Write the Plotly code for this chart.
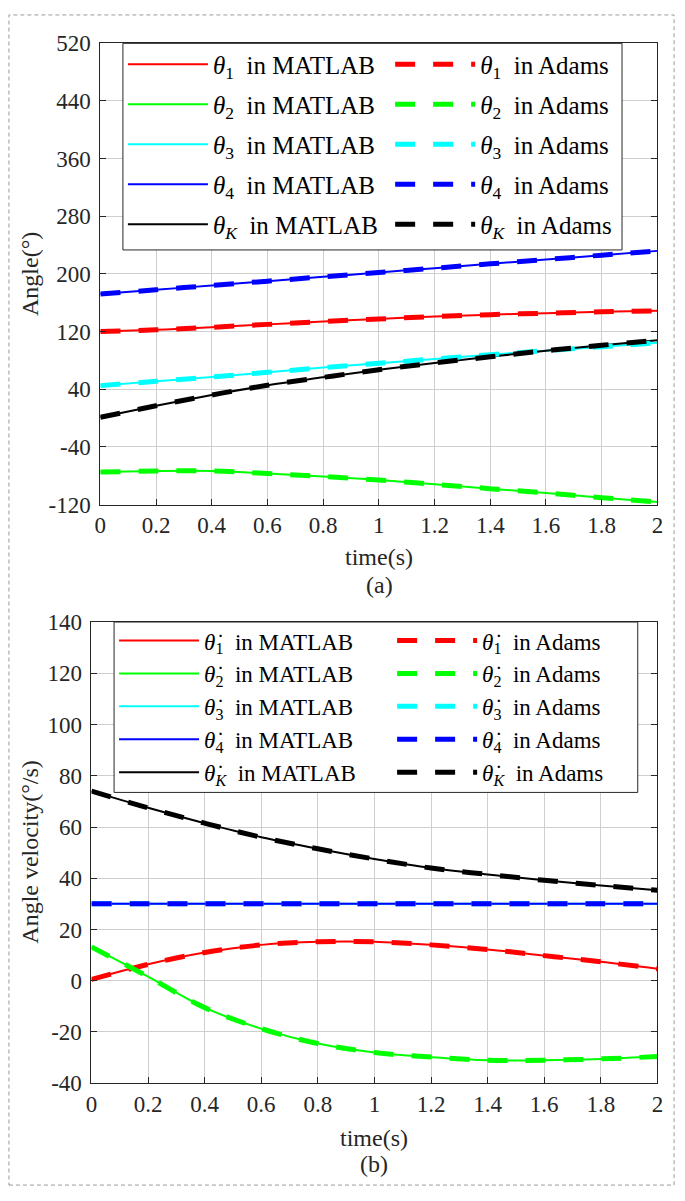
import plotly.graph_objects as go

W, H = 685, 1201

t = [0, 0.2, 0.4, 0.6, 0.8, 1.0, 1.2, 1.4, 1.6, 1.8, 2.0]

# (a) angles, degrees
theta1 = [120, 122.5, 126, 130, 134, 137.5, 141, 143.5, 145.5, 147.5, 148.8]
theta2 = [-75, -73.5, -73.5, -77, -81, -86, -92, -98, -104, -110.5, -116.5]
theta3 = [45, 51, 57, 63.5, 70, 76, 82, 88, 93.5, 99, 104.5]
theta4 = [172, 178, 184, 190, 196, 202, 208, 214, 220, 226, 232]
thetaK = [1, 17, 32, 45.5, 56.5, 67, 76.5, 85, 93.5, 101, 108]

# (b) angular velocities, deg/s
dtheta1 = [0.5, 6.4, 11, 14, 15.2, 15.2, 14, 12.2, 9.8, 7.4, 4.7]
dtheta2 = [13.2, 1.6, -10.5, -18.7, -24.5, -28, -29.8, -31, -31, -30.5, -29.6]
dtheta3 = [30, 30, 30, 30, 30, 30, 30, 30, 30, 30, 30]
dtheta4 = [30, 30, 30, 30, 30, 30, 30, 30, 30, 30, 30]
dthetaK = [74, 67.5, 61.5, 56, 51.5, 47.5, 44, 41.5, 39.2, 37.2, 35.3]

colors = ['#ff0000', '#00ff00', '#00ffff', '#0000ff', '#000000']
subs = ['1', '2', '3', '4', '<i>K</i>']

FONT = 'Liberation Serif, Times New Roman, serif'
AX = '#262626'


def px(x):
    return x / W


def py(y):
    return 1 - y / H


fig = go.Figure()

theta = '<i>θ</i>'
theta_dot = '<i>θ\u0307</i>'
panels = [
    ([theta1, theta2, theta3, theta4, thetaK], 'x', 'y', theta, 'legend', 'legend2'),
    ([dtheta1, dtheta2, dtheta3, dtheta4, dthetaK], 'x2', 'y2', theta_dot, 'legend3', 'legend4'),
]

for series, xa, ya, sym, legm, lega in panels:
    for i, vals in enumerate(series):
        fig.add_trace(go.Scatter(
            x=t, y=vals, xaxis=xa, yaxis=ya, mode='lines', line_shape='spline',
            line=dict(color=colors[i], width=2),
            name=sym + '<sub>' + subs[i] + '</sub>  in MATLAB',
            legend=legm, legendgroup=legm + str(i)))
    for i, vals in enumerate(series):
        fig.add_trace(go.Scatter(
            x=t, y=vals, xaxis=xa, yaxis=ya, mode='lines', line_shape='spline',
            line=dict(color=colors[i], width=5, dash='20px,18px'),
            name=sym + '<sub>' + subs[i] + '</sub>  in Adams',
            legend=lega, legendgroup=lega + str(i)))

axis_common = dict(
    showline=True, linecolor=AX, linewidth=1, mirror='ticks',
    ticks='inside', ticklen=6, tickcolor=AX, tickwidth=1,
    showgrid=True, gridcolor='#cfcfcf', gridwidth=1, zeroline=False,
    tickfont=dict(family=FONT, size=23, color=AX),
)
minus_fix = {'−120': '-120', '−40': '-40', '−20': '-20'}

fig.update_layout(
    width=W, height=H,
    margin=dict(l=0, r=0, t=0, b=0),
    paper_bgcolor='white', plot_bgcolor='white',
    showlegend=True,
    xaxis=dict(domain=[px(96), px(663)], anchor='y', range=[0, 2], tick0=0, dtick=0.2,
               ticklabelstandoff=0, **axis_common),
    yaxis=dict(domain=[py(503), py(32)], anchor='x', range=[-120, 520], tick0=-120, dtick=80,
               ticklabelstandoff=4, labelalias=minus_fix, **axis_common),
    xaxis2=dict(domain=[px(87), px(663)], anchor='y2', range=[0, 2], tick0=0, dtick=0.2,
                ticklabelstandoff=0, **axis_common),
    yaxis2=dict(domain=[py(1094), py(623)], anchor='x2', range=[-40, 140], tick0=-40, dtick=20,
                ticklabelstandoff=4, labelalias=minus_fix, **axis_common),
)

leg_common = dict(bgcolor='rgba(0,0,0,0)', borderwidth=0, itemwidth=80,
                  xanchor='left', yanchor='top',
                  itemclick=False, itemdoubleclick=False)
top_font = dict(family=FONT, size=25, color='black')
bot_font = dict(family=FONT, size=23, color='black')
fig.update_layout(
    legend=dict(x=px(119), y=py(30), font=top_font, tracegroupgap=4.5, **leg_common),
    legend2=dict(x=px(391), y=py(30), font=top_font, tracegroupgap=4.5, **leg_common),
    legend3=dict(x=px(110), y=py(620), font=bot_font, tracegroupgap=0, **leg_common),
    legend4=dict(x=px(393), y=py(620), font=bot_font, tracegroupgap=0, **leg_common),
)

# legend boxes and the outer dashed frame
fig.add_shape(type='rect', xref='paper', yref='paper', layer='above',
              x0=px(119), x1=px(627), y0=py(243), y1=py(32),
              fillcolor='white', line=dict(color=AX, width=1))
fig.add_shape(type='rect', xref='paper', yref='paper', layer='above',
              x0=px(110), x1=px(643), y0=py(797), y1=py(623),
              fillcolor='white', line=dict(color=AX, width=1))
fig.add_shape(type='rect', xref='paper', yref='paper', layer='above',
              x0=px(3), x1=px(680), y0=py(1198), y1=py(3),
              line=dict(color='#9a9a9a', width=1, dash='4px,3px'))

labels = [
    ('Angle(°)', 25, 268, -90),
    ('Angle velocity(°/s)', 25, 858, -90),
    ('time(s)', 380, 557, 0),
    ('(a)', 380, 585, 0),
    ('time(s)', 375, 1150, 0),
    ('(b)', 375, 1176, 0),
]
for txt, x, y, ang in labels:
    fig.add_annotation(text=txt, x=px(x), y=py(y), xref='paper', yref='paper',
                       showarrow=False, textangle=ang, xanchor='center', yanchor='middle',
                       font=dict(family=FONT, size=24, color=AX))

fig.write_html("out.html", config={'displayModeBar': False},
               post_script="document.body.style.margin='0';document.body.style.overflow='hidden';")
